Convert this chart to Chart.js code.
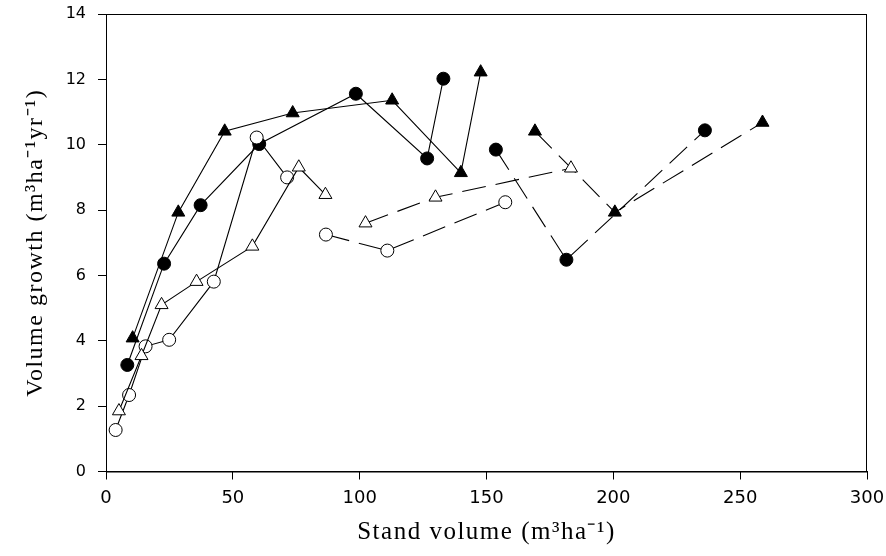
<!DOCTYPE html>
<html>
<head>
<meta charset="utf-8">
<script src="https://cdn.jsdelivr.net/npm/chart.js@4"></script>
<style>
  html, body { margin: 0; padding: 0; background: #fff; }
  #wrap { width: 886px; height: 556px; }
</style>
</head>
<body>
<div id="wrap"><canvas id="growthChart"></canvas></div>
<script>
// solid lines
const closedCircleX = [8.4, 22.9, 37.3, 60.4, 98.5, 126.6, 133.0];
const closedCircleY = [3.26, 6.36, 8.15, 10.02, 11.56, 9.58, 12.02];
const closedTriX = [10.5, 28.5, 46.8, 73.6, 112.8, 139.9, 147.7];
const closedTriY = [4.08, 7.93, 10.41, 10.97, 11.36, 9.14, 12.22];
const openCircleX = [3.8, 9.1, 15.6, 24.9, 42.5, 59.4, 71.4];
const openCircleY = [1.27, 2.34, 3.83, 4.03, 5.81, 10.22, 9.0];
const openTriX = [5.1, 14.0, 21.9, 35.7, 57.7, 76.0, 86.5];
const openTriY = [1.85, 3.54, 5.1, 5.81, 6.89, 9.31, 8.47];

// dashed lines
const dashClosedCircleX = [153.7, 181.5, 236.1];
const dashClosedCircleY = [9.85, 6.48, 10.44];
const dashClosedTriX = [169.1, 200.6, 258.8];
const dashClosedTriY = [10.41, 7.93, 10.68];
const dashOpenCircleX = [86.7, 110.9, 157.4];
const dashOpenCircleY = [7.25, 6.76, 8.24];
const dashOpenTriX = [102.3, 129.9, 183.3];
const dashOpenTriY = [7.6, 8.39, 9.28];

const xTicks = [0, 50, 100, 150, 200, 250, 300];
const yTicks = [0, 2, 4, 6, 8, 10, 12, 14];

function pts(xs, ys) {
  return xs.map((x, i) => ({ x: x, y: ys[i] }));
}

function series(xs, ys, shape, filled, dashed) {
  const r = shape === 'triangle' ? 7.5 : 6.5;
  return {
    data: pts(xs, ys),
    showLine: true,
    borderColor: '#000',
    borderWidth: 1.1,
    borderDash: dashed ? [24, 10] : [],
    pointStyle: shape,
    pointRadius: r,
    pointHoverRadius: r,
    pointBackgroundColor: filled ? '#000' : '#fff',
    pointBorderColor: '#000',
    pointBorderWidth: 1
  };
}

// box round the plot, and wider spacing for the axis titles
const frame = {
  id: 'frame',
  beforeDraw(chart) {
    chart.ctx.letterSpacing = '1.5px';
  },
  beforeDatasetsDraw(chart) {
    chart.ctx.letterSpacing = '0px';
  },
  afterDatasetsDraw(chart) {
    const a = chart.chartArea;
    const ctx = chart.ctx;
    ctx.save();
    ctx.strokeStyle = '#000';
    ctx.lineWidth = 1;
    ctx.strokeRect(a.left + 0.5, a.top + 0.5, a.right - a.left - 1, a.bottom - a.top);
    ctx.restore();
  }
};

new Chart(document.getElementById('growthChart'), {
  type: 'scatter',
  data: {
    datasets: [
      series(openTriX, openTriY, 'triangle', false, false),
      series(openCircleX, openCircleY, 'circle', false, false),
      series(closedTriX, closedTriY, 'triangle', true, false),
      series(closedCircleX, closedCircleY, 'circle', true, false),
      series(dashOpenTriX, dashOpenTriY, 'triangle', false, true),
      series(dashOpenCircleX, dashOpenCircleY, 'circle', false, true),
      series(dashClosedTriX, dashClosedTriY, 'triangle', true, true),
      series(dashClosedCircleX, dashClosedCircleY, 'circle', true, true)
    ]
  },
  options: {
    responsive: true,
    maintainAspectRatio: false,
    animation: false,
    layout: { padding: { top: 14, right: 19, left: 0, bottom: 0 } },
    plugins: { legend: { display: false }, tooltip: { enabled: false } },
    scales: {
      x: {
        type: 'linear',
        min: 0,
        max: 300,
        afterBuildTicks: (s) => { s.ticks = xTicks.map(v => ({ value: v })); },
        afterFit: (s) => { s.height = 84.5; },
        grid: { drawOnChartArea: false, drawTicks: true, tickLength: 8, color: '#000' },
        border: { color: '#000', width: 1 },
        ticks: { color: '#000', padding: 0, maxRotation: 0, z: 1,
          font: { family: 'DejaVu Sans', size: 18, lineHeight: '37px' } },
        title: {
          display: true,
          text: 'Stand volume (m³ha⁻¹)',
          color: '#000',
          font: { family: 'Liberation Serif, Times New Roman', size: 25 },
          padding: { top: 0, bottom: 9 }
        }
      },
      y: {
        type: 'linear',
        min: 0,
        max: 14,
        afterBuildTicks: (s) => { s.ticks = yTicks.map(v => ({ value: v })); },
        afterFit: (s) => { s.width = 106; s.paddingTop = 0; s.paddingBottom = 0; },
        grid: { drawOnChartArea: false, drawTicks: true, tickLength: 8, color: '#000' },
        border: { color: '#000', width: 1 },
        ticks: { color: '#000', padding: 12, z: 1,
          font: { family: 'DejaVu Sans', size: 16 } },
        title: {
          display: true,
          text: 'Volume growth (m³ha⁻¹yr⁻¹)',
          color: '#000',
          font: { family: 'Liberation Serif, Times New Roman', size: 24 },
          padding: { top: 21, bottom: 0 }
        }
      }
    }
  },
  plugins: [frame]
});
</script>
</body>
</html>
